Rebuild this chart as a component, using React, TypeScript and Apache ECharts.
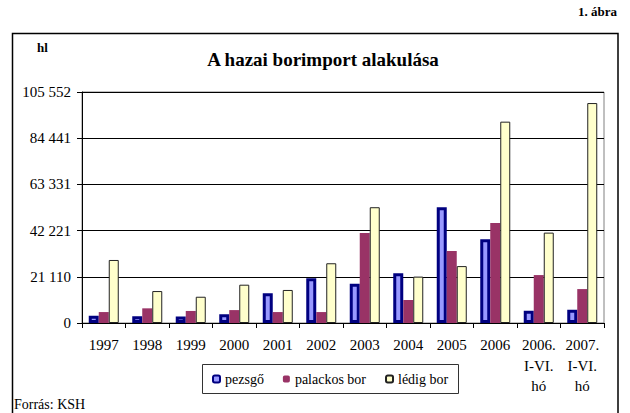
import React, { useEffect, useRef } from "react";
import * as echarts from "echarts";

const categories = [
  "1997", "1998", "1999", "2000", "2001", "2002", "2003", "2004", "2005", "2006",
  "2006.\nI-VI.\nhó", "2007.\nI-VI.\nhó",
];
const seriesNames = ["pezsgő", "palackos bor", "lédig bor"];
const pezsgo = [3300, 3100, 3000, 4000, 13600, 20500, 17900, 22700, 52900, 38300, 5600, 6000];
const palackos = [5000, 6700, 5500, 5900, 5000, 5000, 41100, 10500, 32900, 45700, 21900, 15500];
const ledig = [28800, 14600, 12000, 17500, 15100, 27300, 52900, 21200, 26000, 92000, 41300, 100500];
const yTickLabels = ["0", "21 110", "42 221", "63 331", "84 441", "105 552"];
const yMax = 105552;

const FONT = '"Times New Roman", "Liberation Serif", serif';

export default function App() {
  const ref = useRef<HTMLDivElement>(null);
  useEffect(() => {
    if (!ref.current) return;
    const chart = echarts.init(ref.current, null, { renderer: "svg" });
    const interval = yMax / 5;
    chart.setOption({
      animation: false,
      backgroundColor: "#ffffff",
      textStyle: { fontFamily: FONT, color: "#000" },
      grid: { left: 82, right: 26, top: 92, bottom: 90, show: true, borderColor: "#808080", borderWidth: 1, backgroundColor: "transparent" },
      xAxis: {
        type: "category",
        data: categories,
        boundaryGap: true,
        axisLine: { show: true, lineStyle: { color: "#000", width: 1 } },
        axisTick: { show: true, inside: false, length: 5, alignWithLabel: false, lineStyle: { color: "#000" } },
        axisLabel: { interval: 0, margin: 12, fontSize: 15, lineHeight: 20.5, color: "#000", fontFamily: FONT },
        splitLine: { show: false },
      },
      yAxis: {
        type: "value",
        min: 0,
        max: yMax,
        interval: interval,
        axisLine: { show: true, lineStyle: { color: "#000", width: 1 } },
        axisTick: { show: true, inside: false, length: 5, lineStyle: { color: "#000" } },
        axisLabel: {
          margin: 11,
          fontSize: 15,
          lineHeight: 18,
          color: "#000",
          fontFamily: FONT,
          formatter: (v: number) => yTickLabels[Math.round(v / interval)] ?? "",
        },
        splitLine: { show: true, lineStyle: { color: "#000", width: 1 } },
      },
      legend: {
        show: true,
        left: 212,
        top: 371,
        padding: 0,
        itemWidth: 7,
        itemHeight: 7,
        itemGap: 19,
        textStyle: { fontSize: 14, lineHeight: 16, fontFamily: FONT, color: "#000" },
        data: seriesNames,
      },
      series: [
        {
          name: seriesNames[0],
          type: "bar",
          data: pezsgo,
          barWidth: 10,
          barGap: "0%",
          itemStyle: { color: "#9999FF", borderColor: "#000080", borderWidth: 3 },
        },
        {
          name: seriesNames[1],
          type: "bar",
          data: palackos,
          barWidth: 10,
          barGap: "0%",
          itemStyle: { color: "#993366", borderWidth: 0 },
        },
        {
          name: seriesNames[2],
          type: "bar",
          data: ledig,
          barWidth: 10,
          barGap: "0%",
          itemStyle: { color: "#FFFFCC", borderColor: "#222", borderWidth: 1 },
        },
      ],
      graphic: [
        {
          type: "rect",
          shape: { x: 12.5, y: 33.5, width: 605.5, height: 400 },
          style: { fill: "none", stroke: "#000", lineWidth: 1.5 },
          silent: true,
        },
        {
          type: "rect",
          shape: { x: 202.5, y: 364.5, width: 256, height: 29 },
          style: { fill: "none", stroke: "#333", lineWidth: 1 },
          silent: true,
        },
        {
          type: "text",
          x: 323,
          y: 59,
          style: { text: "A hazai borimport alakulása", fontFamily: FONT, fontWeight: "bold", fontSize: 19, fill: "#000", align: "center", verticalAlign: "middle" },
        },
        {
          type: "text",
          x: 37,
          y: 47,
          style: { text: "hl", fontFamily: FONT, fontWeight: "bold", fontSize: 13, lineHeight: 15, fill: "#000", align: "left", verticalAlign: "middle" },
        },
        {
          type: "text",
          x: 617,
          y: 11,
          style: { text: "1. ábra", fontFamily: FONT, fontWeight: "bold", fontSize: 13, lineHeight: 15, fill: "#000", align: "right", verticalAlign: "middle" },
        },
        {
          type: "text",
          x: 14,
          y: 404,
          style: { text: "Forrás: KSH", fontFamily: FONT, fontSize: 14, lineHeight: 16, fill: "#000", align: "left", verticalAlign: "middle" },
        },
      ],
    });
    return () => chart.dispose();
  }, []);
  return <div ref={ref} style={{ position: "fixed", left: 0, top: 0, width: 630, height: 413 }} />;
}
